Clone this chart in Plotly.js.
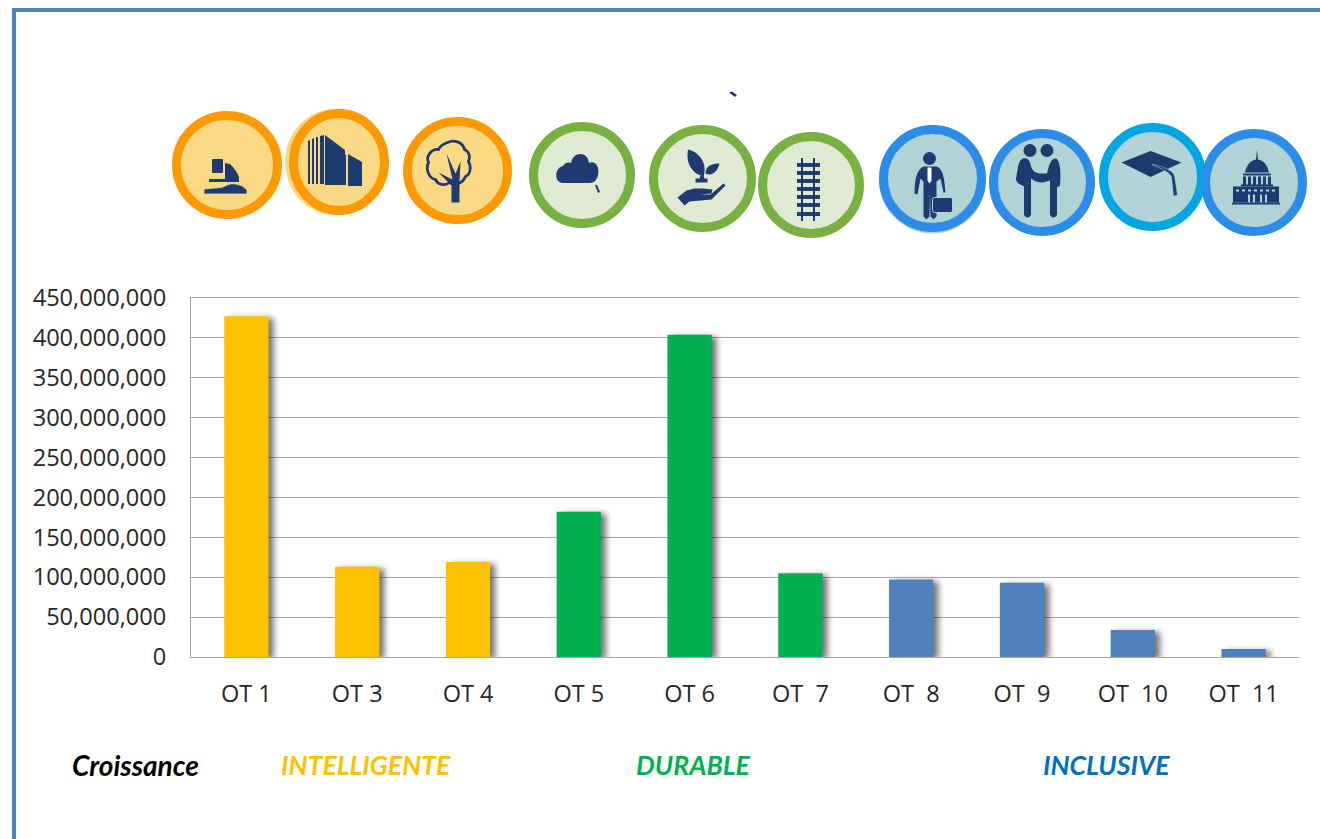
<!DOCTYPE html>
<html>
<head>
<meta charset="utf-8">
<script src="https://cdn.plot.ly/plotly-3.0.1.min.js"></script>
<style>
html,body{margin:0;padding:0;background:#fff;overflow:hidden}
#chart{width:1320px;height:839px}
.barlayer .point path{filter:drop-shadow(5px 2px 3px rgba(0,0,0,.55))}
</style>
</head>
<body>
<div id="chart"></div>
<script>
const categories = ['OT 1','OT 3','OT 4','OT 5','OT 6','OT\u00a0 7','OT\u00a0 8','OT\u00a0 9','OT\u00a0 10','OT\u00a0 11'];
const values = [427000000,113000000,119000000,182000000,404000000,105000000,97000000,93000000,34000000,10000000];
const barColors = ['#FFC000','#FFC000','#FFC000','#00B050','#00B050','#00B050','#4F81BD','#4F81BD','#4F81BD','#4F81BD'];
const yTicks = [0,50000000,100000000,150000000,200000000,250000000,300000000,350000000,400000000,450000000];
const groupLabels = ['Croissance','INTELLIGENTE','DURABLE','INCLUSIVE'];
const groupColors = ['#000000','#FFC000','#00B050','#0070C0'];
const groupLeft = [71,280,635,1042];
const groupSizes = [28,26.6,26.6,26.6];

const W=1320,H=839,M={l:191,r:21,t:298,b:182};
const px=x=>(x-M.l)/(W-M.l-M.r);
const py=y=>(H-M.b-y)/(H-M.t-M.b);
const N='#1F3A70';

const icons={
 sail:`<rect x="-15" y="-6" width="11" height="14" rx="1"/><path d="M-2-2L3-1Q10 6 12 12L12 17L-18 17L-18 14L-2 14Z"/><path d="M-23 29L-23 24L-12 23Q-4 23 0 20Q4 18 9 19Q16 20 20 25L20 29Z" stroke="#FAD985" stroke-width=".8"/>`,
 build:`<path d="M-31-21L-29-22L-29 22L-31 22ZM-27-23L-25-24L-25 22L-27 22ZM-23-25L-21-25L-21 22L-23 22ZM-19-26L-15-27L-15 22L-19 22Z"/><path d="M-14-27L6-12L6 23L-14 23Z"/><path d="M5-8L7-7L7 23L5 23ZM9-8L23 0L23 24L9 24Z"/>`,
 tree:`<path d="M-10-28C-4-31 5-29 7-21C12-19 13-13 11-9C14-4 13 4 8 6C5 14-4 15-8 12C-13 16-20 14-22 9C-29 8-32-2-29-8C-32-14-26-22-19-21C-17-25-13-27-10-28Z" fill="none" stroke="${N}" stroke-width="2.8"/><path d="M-6 32L-6 15L-19 2L-5 9L-11-17L-2 3L3-9L2 12L2 32Z"/>`,
 cloud:`<path d="M-19 8C-28 8-28-7-19-9C-17-13-13-13-11-12C-9-24 6-24 7-12C13-15 18-8 16 0C15 5 12 8 8 8Z"/><path d="M13 10L15 10L18 17L16 18Z"/>`,
 plant:`<path d="M-14.5-29C-2-26 5-14 1-2C-10-5-17-14-14.5-29Z"/><path d="M3-5C3-13 10-15 17-15C15-7 10-2 3-5Z"/><path d="M-2-3L1-3L2 0L5 0L5 4L-7 4L-7 0L-3 0Z"/><path d="M-25 19L-16 12L-8 10L1 10L10 11L9 15L-3 16L8 16L21 5L23 7L9 21L-13 23L-18 27Z"/>`,
 rail:`<path d="M-10-27L-8-27L-8 36L-10 36ZM2-27L4-27L4 36L2 36Z"/><path d="M-14-22H9V-18H-14ZM-14-14H9V-10H-14ZM-14-6H9V-2H-14ZM-14 2H9V6H-14ZM-14 10H9V14H-14ZM-14 18H9V22H-14ZM-14 27H9V31H-14Z"/>`,
 man:`<circle cx="-3" cy="-20" r="6.5"/><path d="M-9-12L4-12C11-10 12 2 13 14L11 14L8 0L4 3L4 38L1 41L-2 38L-2.5 14L-3 38L-6 41L-9 38L-9 3L-12 0L-15 16L-18 15C-18 2-16-9-9-12Z"/><path d="M-5-11L-1-11L-1 2L-3 5L-5 2Z" fill="#FFFFFF"/><rect x="0" y="19" width="20" height="15" rx="2" stroke="#B2D3D6" stroke-width="1"/>`,
 shake:`<circle cx="-12" cy="-32" r="6.5"/><circle cx="5" cy="-32" r="6.5"/><path d="M-19-24C-14-25-12-22-11-16C-9-11-6-9-1-9L5-9C7-16 8-24 14-24C19-22 19-4 18 3C15 5 15 5 15 5L15 32C14 36 9 36 8 32L8-2L1 0C-3 0-7-1-11-4L-11 32C-12 36-17 36-18 32L-18 4C-21 2-26 1-26-4C-24-14-24-22-19-24Z"/>`,
 cap:`<path d="M-31-14.5L-2-26L29-14.5L-2 0Z"/><path d="M0-13C12-10 21-6 22-1L25 18L21 19L19 0C17-5 8-9 0-12Z" stroke="#B2D3D6" stroke-width=".5"/>`,
 dome:`<path d="M3-33L4-23C11-22 14-15 15-10L-9-10C-8-15-5-22 2-23Z"/><path d="M-11-9H17V-7H-11ZM-11-6H-8V2H-11ZM-6-6H-3V2H-6ZM-1-6H2V2H-1ZM4-6H7V2H4ZM9-6H12V2H9ZM14-6H17V2H14ZM-13 2H19V4H-13Z"/><path fill-rule="evenodd" d="M-21 4H25V20H-21ZM-18 7V9H-15V7ZM-12 7V9H-9V7ZM-6 7V9H-3V7ZM0 7V9H3V7ZM6 7V9H9V7ZM12 7V9H15V7ZM18 7V9H21V7ZM-6 12V20H-4V12ZM-1 12V20H1V12ZM6 12V20H8V12ZM11 12V20H13V12Z"/><rect x="-22" y="20" width="48" height="2"/>`
};
const OR=['#FF9900','#FAD985'],GR=['#78B042','#E0EAD3'],BL=['#2B8DE8','#B2D3D6'],CY=['#00A5E3','#B2D3D6'];
const badges=[
 {i:'sail',c:OR,x0:172,x1:282,y0:111,y1:219},
 {i:'build',c:OR,x0:289,x1:389,y0:109,y1:215,back:'#FAD985',bx:-4,by:0},
 {i:'tree',c:OR,x0:403,x1:512,y0:117,y1:224},
 {i:'cloud',c:GR,x0:529,x1:635,y0:122,y1:228},
 {i:'plant',c:GR,x0:649,x1:756,y0:125,y1:232},
 {i:'rail',c:GR,x0:758,x1:864,y0:132,y1:238},
 {i:'man',c:BL,x0:879,x1:986,y0:125,y1:232,back:'#B2D3D6',bx:0,by:1.5},
 {i:'shake',c:BL,x0:989,x1:1095,y0:129,y1:236},
 {i:'cap',c:CY,x0:1099,x1:1206,y0:123,y1:231},
 {i:'dome',c:BL,x0:1201,x1:1307,y0:129,y1:236}
];
function badgeImage(b){
 const w=b.x1-b.x0+10,h=b.y1-b.y0+10;
 const rx=(b.x1-b.x0)/2-4.5,ry=(b.y1-b.y0)/2-4.5;
 const back=b.back?`<ellipse cx="${b.bx}" cy="${b.by}" rx="${rx+4.5}" ry="${ry+4.5}" fill="${b.back}"/>`:'';
 const svg=`<svg xmlns="http://www.w3.org/2000/svg" width="${w}" height="${h}" viewBox="${-w/2} ${-h/2} ${w} ${h}">${back}<ellipse cx="0" cy="0" rx="${rx}" ry="${ry}" fill="${b.c[1]}" stroke="${b.c[0]}" stroke-width="9"/><g fill="${N}">${icons[b.i]}</g></svg>`;
 return {source:'data:image/svg+xml;base64,'+btoa(svg),xref:'paper',yref:'paper',
  x:px(b.x0-5),y:py(b.y0-5),sizex:w/(W-M.l-M.r),sizey:h/(H-M.t-M.b),xanchor:'left',yanchor:'top',sizing:'stretch',layer:'above'};
}

const frameColor='#4F81BD';
const shapes=[
 {type:'rect',xref:'paper',yref:'paper',x0:px(12),x1:px(16),y0:py(839),y1:py(8),fillcolor:frameColor,line:{width:0},layer:'below'},
 {type:'rect',xref:'paper',yref:'paper',x0:px(12),x1:px(1320),y0:py(12),y1:py(8),fillcolor:frameColor,line:{width:0},layer:'below'},
 {type:'path',xref:'paper',yref:'paper',path:`M${px(729)},${py(92.5)} L${px(732)},${py(91.5)} L${px(737)},${py(95)} L${px(735)},${py(97)} Z`,fillcolor:N,line:{width:0}}
];
const annotations=groupLabels.map((t,i)=>({text:t,xref:'paper',yref:'paper',x:px(groupLeft[i]),y:py(765),xanchor:'left',yanchor:'middle',showarrow:false,
 font:{family:'Lato, Carlito, sans-serif',size:groupSizes[i],color:groupColors[i],weight:700,style:'italic'},borderpad:0}));

Plotly.newPlot('chart',[{type:'bar',x:categories,y:values,width:0.4,marker:{color:barColors,line:{width:0}},hoverinfo:'x+y'}],{
 width:W,height:H,margin:M,paper_bgcolor:'#fff',plot_bgcolor:'#fff',showlegend:false,
 font:{family:'"Open Sans", sans-serif',color:'#262626'},
 xaxis:{type:'category',categoryorder:'array',categoryarray:categories,tickfont:{size:23.5,color:'#262626'},showgrid:false,zeroline:false,
  showline:true,mirror:true,linecolor:'#A6A6A6',linewidth:1,ticks:'outside',ticklen:16,tickcolor:'rgba(0,0,0,0)',range:[-0.5,9.5],fixedrange:true},
 yaxis:{range:[0,450000000],tickmode:'array',tickvals:yTicks,ticktext:yTicks.map(v=>v.toLocaleString('en-US')),tickfont:{size:23.6,color:'#262626'},
  showgrid:true,gridcolor:'#A6A6A6',gridwidth:1,zeroline:false,showline:true,linecolor:'#A6A6A6',linewidth:1,ticks:'outside',ticklen:19,tickcolor:'rgba(0,0,0,0)',fixedrange:true},
 shapes:shapes,annotations:annotations,images:badges.map(badgeImage)
},{displayModeBar:false,staticPlot:false});
</script>
</body>
</html>
